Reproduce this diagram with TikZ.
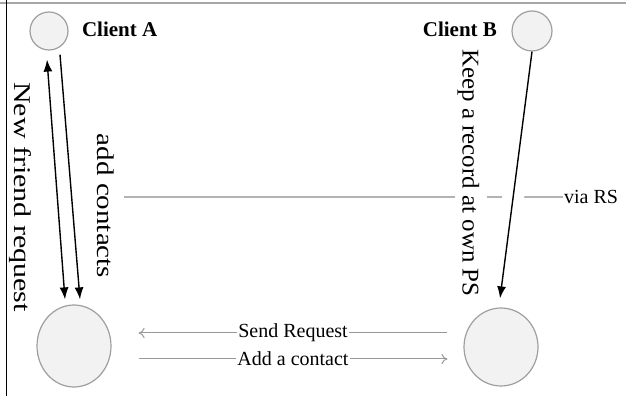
\documentclass[tikz,border=0pt]{standalone}
\usepackage{fontspec}
\setmainfont{Liberation Serif}
\usetikzlibrary{positioning,arrows.meta,shapes.geometric}
\tikzset{
  flowarrow/.style={-{Latex[length=6pt,width=4.5pt]}, line width=0.7pt},
  twoway/.style={{Latex[length=6pt,width=4.5pt]}-{Latex[length=6pt,width=4.5pt]}, line width=0.7pt},
  msgarrow/.style={-{To[length=3pt,width=5pt]}, draw=gray!80, line width=0.5pt},
  client/.style={circle, draw=gray!75, fill=gray!10, line width=0.6pt, minimum size=19pt, inner sep=0pt},
  server/.style={ellipse, draw=gray!75, fill=gray!10, line width=0.6pt, minimum width=37pt, minimum height=41pt, inner sep=0pt},
  relabel/.style={fill=white, inner sep=0.5pt},
  sidelabel/.style={rotate=-90, font=\fontsize{12}{14}\selectfont, fill=white, inner sep=1pt},
  namelabel/.style={font=\fontsize{10.5}{12}\selectfont\bfseries}
}
\begin{document}
\begin{tikzpicture}[x=0.5pt, y=0.5pt, >=Latex, every node/.style={font=\fontsize{10}{12}\selectfont}]
  \useasboundingbox (0,0) rectangle (626,396);
  % frame
  \draw[gray!70, line width=1pt] (0,393) -- (626,393);
  \draw[line width=0.8pt] (6.5,0) -- (6.5,396);

  \node[client] (cA) at (49,365) {};
  \node[client, minimum size=20pt] (cB) at (532,365) {};
  \node[server] (sA) at (74,50) {};
  \node[server, minimum height=39pt] (sB) at (501,49) {};
  \node[namelabel, anchor=west] (nA) at (75,367) {Client A};
  \node[namelabel, anchor=east] (nB) at (504,367) {Client B};

  % relay line
  \node[inner sep=0.5pt] (rs) at (591,199) {via RS};
  \coordinate (rsstart) at (124,199);
  \draw[gray!60, line width=1pt] (rsstart) -- (rs.west);

  \draw[white, line width=11pt, shorten <=58pt, shorten >=36pt] (cB.south) -- ([shift={(-1,9)}]sB.north);
  \draw[flowarrow] (cB.south) -- ([shift={(-1,9)}]sB.north);
  \draw[twoway] ([shift={(-2,-9)}]cA.south) -- ([shift={(-9,5)}]sA.north);
  \draw[flowarrow] ([shift={(11,-4)}]cA.south) -- ([shift={(6,5)}]sA.north);

  \node[sidelabel, text height=11pt, xscale=1.04] (keep) at (471,223) {Keep a record at own PS};
  \node[sidelabel, xscale=1.21] (addc) at (106,190) {add contacts};
  \node[sidelabel, fill=none, xscale=1.25] (nfr) at (20,199) {New friend request};

  \draw[msgarrow] ([shift={(-16,14)}]sB.west) -- node[relabel]{Send Request} ([shift={(27,13)}]sA.east);
  \draw[msgarrow] ([shift={(27,-13)}]sA.east) -- node[relabel]{Add a contact} ([shift={(-16,-12)}]sB.west);
\end{tikzpicture}
\end{document}
